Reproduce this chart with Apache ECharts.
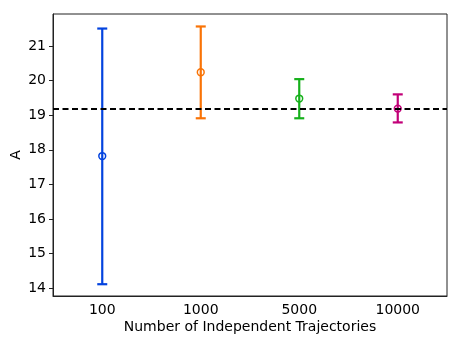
<!DOCTYPE html>
<html>
<head>
<meta charset="utf-8">
<script src="https://cdn.jsdelivr.net/npm/echarts@6/dist/echarts.min.js"></script>
<style>
  html, body { margin: 0; padding: 0; background: #fff; }
  #chart { width: 461px; height: 346px; }
</style>
</head>
<body>
<div id="chart"></div>
<script>
// data
const categories = ['100', '1000', '5000', '10000']
const means = [17.82, 20.24, 19.48, 19.19]
const lows = [14.12, 18.91, 18.91, 18.79]
const highs = [21.50, 21.56, 20.04, 19.60]
const colors = ['#0343df', '#f97306', '#15b01a', '#c20078']
const refLine = 19.19
const yTicks = [14, 15, 16, 17, 18, 19, 20, 21]

const font = '"DejaVu Sans", sans-serif'
const chart = echarts.init(document.getElementById('chart'))

const barData = categories.map((c, i) => [i, means[i], lows[i], highs[i]])

chart.setOption({
  animation: false,
  textStyle: { fontFamily: font },
  grid: {
    left: 53, right: 14, top: 14, bottom: 50,
    outerBoundsMode: 'none',
    containLabel: false,
    show: true, borderColor: '#222', borderWidth: 1
  },
  xAxis: {
    type: 'category',
    data: categories,
    name: 'Number of Independent Trajectories',
    nameLocation: 'middle',
    nameGap: 24,
    nameMoveOverlap: false,
    nameTextStyle: { color: '#000', fontSize: 14, fontFamily: font },
    axisLine: { lineStyle: { color: '#222' } },
    axisTick: { alignWithLabel: true, length: 4, lineStyle: { color: '#222' } },
    axisLabel: { color: '#000', fontSize: 14, margin: 7, fontFamily: font },
    splitLine: { show: false }
  },
  yAxis: {
    type: 'value',
    min: 13.78,
    max: 21.92,
    name: 'A',
    nameLocation: 'middle',
    nameGap: 30,
    nameMoveOverlap: false,
    nameTextStyle: { color: '#000', fontSize: 14, fontFamily: font },
    axisLine: { show: true, lineStyle: { color: '#222' } },
    axisTick: { show: true, length: 4, customValues: yTicks, lineStyle: { color: '#222' } },
    axisLabel: { color: '#000', fontSize: 14, margin: 7, customValues: yTicks, fontFamily: font },
    splitLine: { show: false }
  },
  series: [
    {
      type: 'custom',
      data: barData,
      encode: { x: 0, y: [1, 2, 3] },
      renderItem: function (params, api) {
        const i = api.value(0)
        const col = colors[i]
        const mid = api.coord([i, api.value(1)])
        const lo = api.coord([i, api.value(2)])
        const hi = api.coord([i, api.value(3)])
        const cap = 5
        const st = { stroke: col, lineWidth: 2.2 }
        return {
          type: 'group',
          children: [
            { type: 'line', shape: { x1: lo[0], y1: lo[1], x2: hi[0], y2: hi[1] }, style: st },
            { type: 'line', shape: { x1: lo[0] - cap, y1: lo[1], x2: lo[0] + cap, y2: lo[1] }, style: st },
            { type: 'line', shape: { x1: hi[0] - cap, y1: hi[1], x2: hi[0] + cap, y2: hi[1] }, style: st },
            { type: 'circle', shape: { cx: mid[0], cy: mid[1], r: 3.4 }, style: { fill: 'none', stroke: col, lineWidth: 1.5 } }
          ]
        }
      },
      markLine: {
        silent: true,
        symbol: 'none',
        label: { show: false },
        lineStyle: { color: '#000', width: 2.2, type: [6, 3.5] },
        data: [{ yAxis: refLine }]
      },
      z: 3
    }
  ]
})
</script>
</body>
</html>
